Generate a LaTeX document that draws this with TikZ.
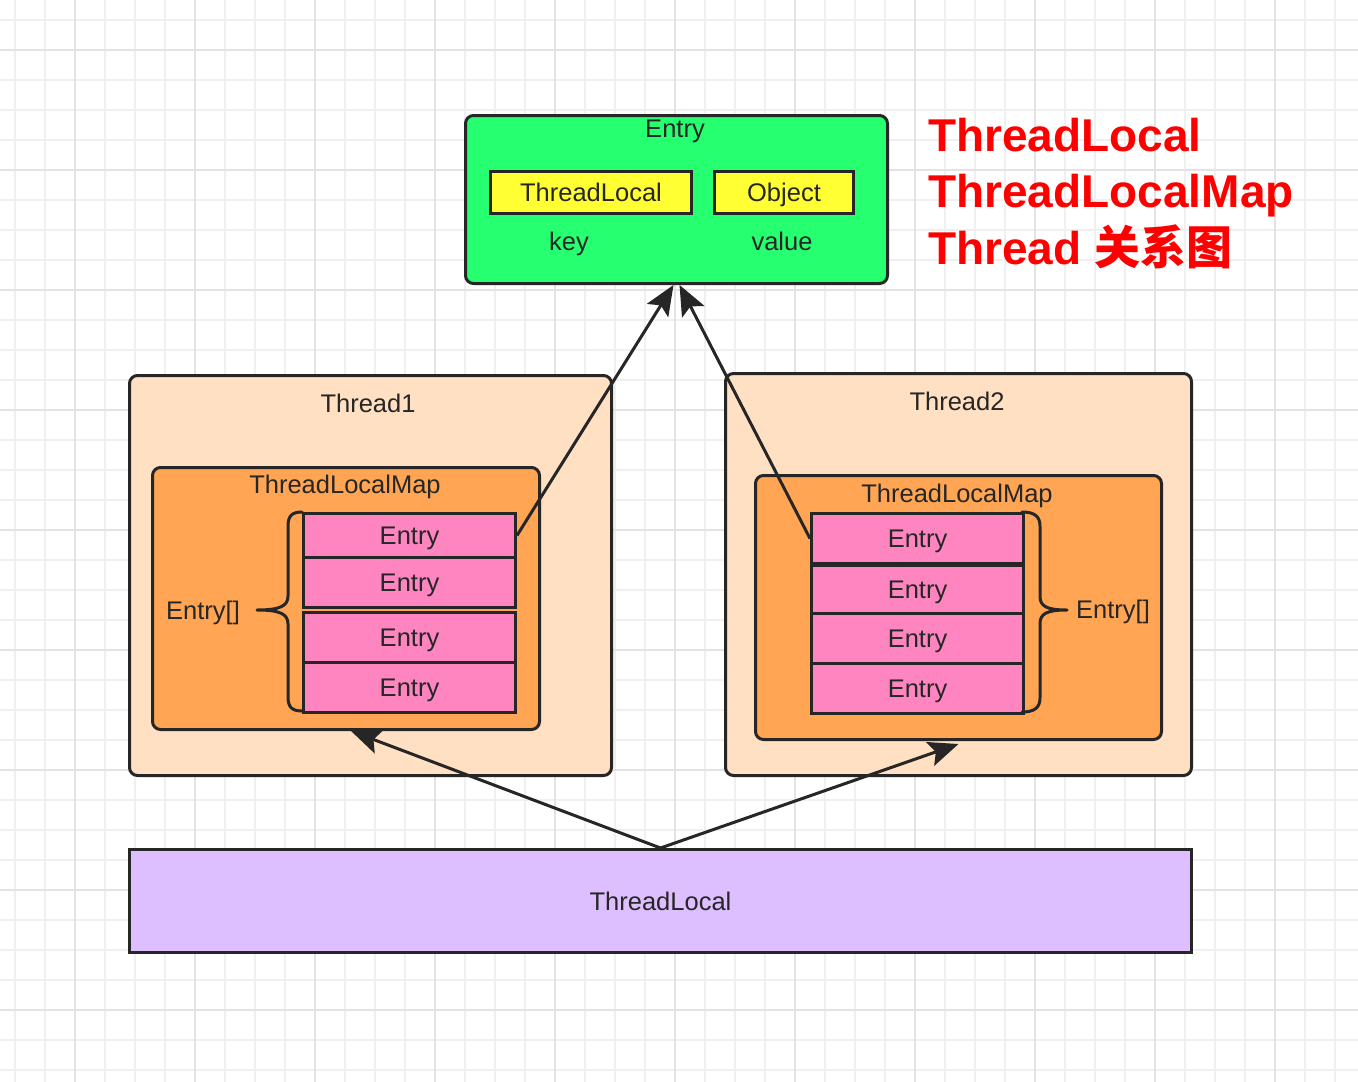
\documentclass[tikz,border=0pt]{standalone}
\usepackage{fontspec}
\setmainfont{Liberation Sans}
\newfontfamily\cjk{Noto Sans CJK SC}
\usetikzlibrary{arrows.meta}
\definecolor{lncol}{HTML}{262626}
\definecolor{txtcol}{HTML}{262626}
\definecolor{gridminor}{HTML}{F0F0F0}
\definecolor{gridmajor}{HTML}{E3E3E3}
\definecolor{greenfill}{HTML}{26FF6F}
\definecolor{yellowfill}{HTML}{FFFF33}
\definecolor{peach}{HTML}{FFE0C2}
\definecolor{orangefill}{HTML}{FFA553}
\definecolor{pinkfill}{HTML}{FF85C0}
\definecolor{purplefill}{HTML}{DDBFFF}
\definecolor{titlered}{HTML}{FF0000}
\tikzset{
  boxbase/.style={draw=lncol, line width=3pt, inner sep=0pt, anchor=north west, text=txtcol,
    font=\fontsize{25.5}{30}\selectfont, text height=18pt, text depth=0pt},
  roundbox/.style={boxbase, rounded corners=8pt},
  lbl/.style={inner sep=0pt, text=txtcol, font=\fontsize{25.5}{30}\selectfont, text height=18pt, text depth=0pt},
  titletext/.style={inner sep=0pt, anchor=base west, text=titlered, font=\fontsize{46}{50}\selectfont\bfseries},
  arr/.style={draw=lncol, line width=3pt, -{Stealth[length=30pt,width=25pt,inset=6pt]}},
  bracepath/.style={draw=lncol, line width=3pt, line cap=round, line join=round},
}
\begin{document}
\begin{tikzpicture}[x=1pt,y=-1pt]
\useasboundingbox (0,0) rectangle (1358,1082);
\fill[white] (0,0) rectangle (1358,1082);
% grid
\foreach \x in {15,45,...,1358} \draw[gridminor, line width=1.5pt] (\x,0) -- (\x,1082);
\foreach \y in {20,50,...,1082} \draw[gridminor, line width=1.5pt] (0,\y) -- (1358,\y);
\foreach \x in {75,195,...,1358} \draw[gridmajor, line width=1.5pt] (\x,0) -- (\x,1082);
\foreach \y in {50,170,...,1082} \draw[gridmajor, line width=1.5pt] (0,\y) -- (1358,\y);

% Entry (green)
\node[roundbox, fill=greenfill, minimum width=422pt, minimum height=168pt] (entry) at (464,114) {};
\node[lbl] (entrylbl) at (675,128) {Entry};
\node[boxbase, fill=yellowfill, minimum width=201pt, minimum height=42pt] (tlkey) at (489,170) {ThreadLocal};
\node[boxbase, fill=yellowfill, minimum width=139pt, minimum height=42pt] (objval) at (713,170) {Object};
\node[lbl] (keylbl) at (569,241) {key};
\node[lbl] (vallbl) at (782,241) {value};

% Title
\node[titletext] (title1) at (928,151) {ThreadLocal};
\node[titletext] (title2) at (928,207) {ThreadLocalMap};
\node[titletext] (title3) at (928,264) {Thread {\cjk\bfseries 关系图}};

% Thread1
\node[roundbox, fill=peach, minimum width=482pt, minimum height=400pt] (t1) at (128,374) {};
\node[lbl] (t1lbl) at (368,403) {Thread1};
\node[roundbox, fill=orangefill, minimum width=387pt, minimum height=262pt] (m1) at (151,466) {};
\node[lbl] (m1lbl) at (345,484) {ThreadLocalMap};
\node[boxbase, fill=pinkfill, minimum width=212pt, minimum height=44pt] (l1) at (302,512) {Entry};
\node[boxbase, fill=pinkfill, minimum width=212pt, minimum height=50pt] (l2) at (302,556) {Entry};
\node[boxbase, fill=pinkfill, minimum width=212pt, minimum height=50pt] (l3) at (302,611) {Entry};
\node[boxbase, fill=pinkfill, minimum width=212pt, minimum height=50pt] (l4) at (302,661) {Entry};
\draw[bracepath] (302,512) .. controls (292,512) and (288,516) .. (288,526) -- (288,596)
  .. controls (288,606) and (280,610) .. (257,610) .. controls (280,610) and (288,614) .. (288,624)
  -- (288,697) .. controls (288,707) and (292,711) .. (302,711);
\node[lbl] (arr1lbl) at (203,610) {Entry[]};

% Thread2
\node[roundbox, fill=peach, minimum width=466pt, minimum height=402pt] (t2) at (724,372) {};
\node[lbl] (t2lbl) at (957,401) {Thread2};
\node[roundbox, fill=orangefill, minimum width=406pt, minimum height=264pt] (m2) at (754,474) {};
\node[lbl] (m2lbl) at (957,493) {ThreadLocalMap};
\node[boxbase, fill=pinkfill, minimum width=212pt, minimum height=50pt] (r1) at (810,512) {Entry};
\node[boxbase, fill=pinkfill, minimum width=212pt, minimum height=48pt] (r2) at (810,564) {Entry};
\node[boxbase, fill=pinkfill, minimum width=212pt, minimum height=50pt] (r3) at (810,612) {Entry};
\node[boxbase, fill=pinkfill, minimum width=212pt, minimum height=50pt] (r4) at (810,662) {Entry};
\draw[bracepath] (1022,512) .. controls (1034,512) and (1040,516) .. (1040,526) -- (1040,596)
  .. controls (1040,606) and (1046,610) .. (1067,610) .. controls (1046,610) and (1040,614) .. (1040,624)
  -- (1040,698) .. controls (1040,708) and (1034,712) .. (1022,712);
\node[lbl] (arr2lbl) at (1113,609) {Entry[]};

% ThreadLocal (purple)
\node[boxbase, fill=purplefill, minimum width=1062pt, minimum height=103pt] (tl) at (128,848) {ThreadLocal};

% arrows
\draw[arr] (l1.east) -- ([xshift=-3pt]entry.south);
\draw[arr] (r1.west) -- ([xshift=3pt]entry.south);
\draw[arr] (tl.north) -- ([xshift=5pt]m1.south);
\draw[arr] (tl.north) -- ([yshift=-3pt]m2.south);
\end{tikzpicture}
\end{document}
